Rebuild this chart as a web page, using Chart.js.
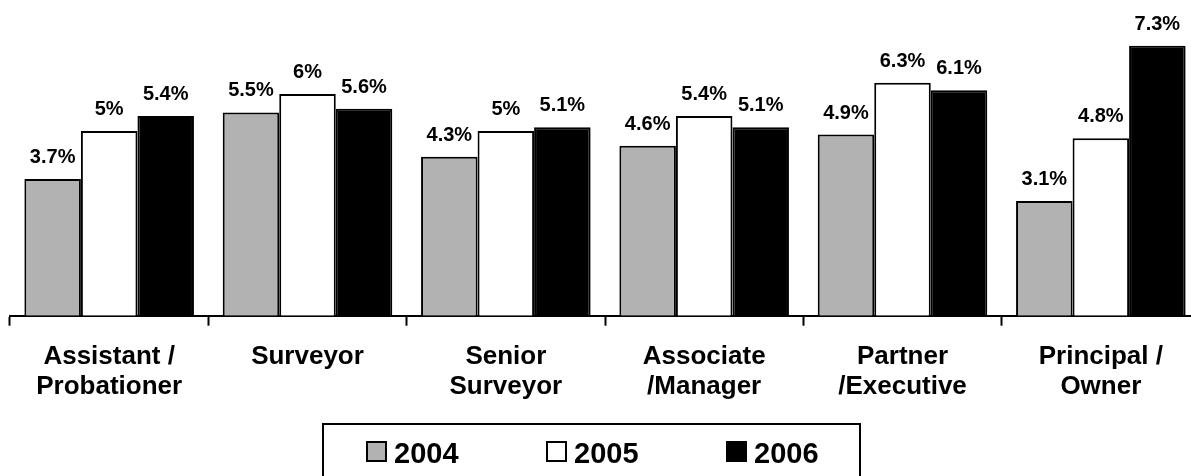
<!DOCTYPE html>
<html>
<head>
<meta charset="utf-8">
<script src="https://cdn.jsdelivr.net/npm/chart.js@4.4.1/dist/chart.umd.min.js"></script>
<style>
  html, body { margin: 0; padding: 0; background: #fff; overflow: hidden; }
  #wrap { width: 1210px; height: 476px; }
</style>
</head>
<body>
<div id="wrap"><canvas id="salary_chart" width="1210" height="476"></canvas></div>
<script>
const categories = [
    ['Assistant /', 'Probationer'],
    ['Surveyor'],
    ['Senior', 'Surveyor'],
    ['Associate', '/Manager'],
    ['Partner', '/Executive'],
    ['Principal /', 'Owner']
];
const years = ['2004', '2005', '2006'];
const values2004 = [3.7, 5.5, 4.3, 4.6, 4.9, 3.1];
const values2005 = [5, 6, 5, 5.4, 6.3, 4.8];
const values2006 = [5.4, 5.6, 5.1, 5.1, 6.1, 7.3];
const fills = ['#b2b2b2', '#ffffff', '#000000'];

const fontFamily = '"Liberation Sans", Arial, sans-serif';

// value labels above each bar
const barLabels = {
    id: 'barLabels',
    afterDatasetsDraw(chart) {
        const ctx = chart.ctx;
        ctx.save();
        ctx.font = 'bold 20px ' + fontFamily;
        ctx.fillStyle = '#000';
        ctx.textAlign = 'center';
        ctx.textBaseline = 'alphabetic';
        chart.data.datasets.forEach((ds, i) => {
            chart.getDatasetMeta(i).data.forEach((bar, j) => {
                ctx.fillText(ds.data[j] + '%', bar.x, bar.y - 16);
            });
        });
        ctx.restore();
    }
};

// boxed legend at the bottom
const boxLegend = {
    id: 'boxLegend',
    afterDraw(chart) {
        const ctx = chart.ctx;
        ctx.save();
        ctx.lineWidth = 2;
        ctx.strokeStyle = '#000';
        ctx.strokeRect(323, 424, 537, 70);
        ctx.font = 'bold 29px ' + fontFamily;
        ctx.textBaseline = 'alphabetic';
        ctx.textAlign = 'left';
        let x = 367;
        chart.data.datasets.forEach((ds) => {
            ctx.fillStyle = ds.backgroundColor;
            ctx.fillRect(x, 442, 19, 19);
            ctx.strokeRect(x, 442, 19, 19);
            ctx.fillStyle = '#000';
            ctx.fillText(ds.label, x + 27, 462.5);
            x += 180;
        });
        ctx.restore();
    }
};

const seriesValues = [values2004, values2005, values2006];

new Chart(document.getElementById('salary_chart'), {
    type: 'bar',
    data: {
        labels: categories,
        datasets: years.map((year, i) => ({
            label: year,
            data: seriesValues[i],
            backgroundColor: fills[i],
            borderColor: '#000',
            borderWidth: 2,
            categoryPercentage: 0.855,
            barPercentage: 1.0
        }))
    },
    options: {
        responsive: false,
        devicePixelRatio: 1,
        animation: false,
        layout: { padding: { left: 10, right: 10, top: 20, bottom: 58 } },
        plugins: {
            legend: { display: false },
            tooltip: { enabled: false }
        },
        scales: {
            x: {
                grid: {
                    offset: true,
                    drawOnChartArea: false,
                    drawTicks: true,
                    tickLength: 10,
                    tickWidth: 2,
                    color: '#000'
                },
                border: { display: true, color: '#000', width: 2 },
                ticks: {
                    color: '#000',
                    padding: 16,
                    maxRotation: 0,
                    autoSkip: false,
                    font: { family: fontFamily, size: 26, weight: 'bold', lineHeight: 1.16 }
                }
            },
            y: {
                display: false,
                min: 0,
                max: 8
            }
        }
    },
    plugins: [barLabels, boxLegend]
});
</script>
</body>
</html>
